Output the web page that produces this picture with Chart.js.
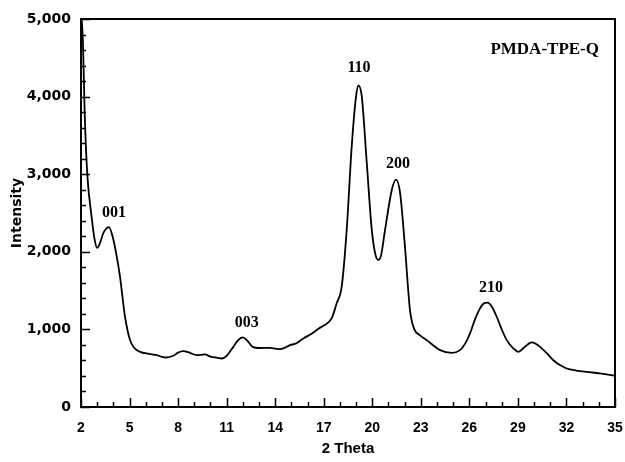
<!DOCTYPE html>
<html>
<head>
<meta charset="utf-8">
<script src="https://cdn.jsdelivr.net/npm/chart.js@4/dist/chart.umd.min.js"></script>
<style>
    html, body { margin: 0; padding: 0; background: #fff; }
    #wrap { width: 625px; height: 462px; }
</style>
</head>
<body>
<div id="wrap"><canvas id="xrdChart"></canvas></div>
<script>
const theta = [
    2.05, 2.12, 2.23, 2.39, 2.64, 2.85, 3.0, 3.15, 3.4, 3.73, 3.95, 4.2, 4.41, 4.72, 5.03, 5.3, 5.65,
    6.2, 6.68, 7.0, 7.3, 7.7, 8.0, 8.32, 8.7, 9.15, 9.66, 10.0, 10.4, 10.7, 11.0, 11.41, 11.7, 11.99,
    12.3, 12.61, 13.0, 13.68, 14.3, 14.92, 15.3, 15.74, 16.3, 16.7, 17.0, 17.49, 17.8, 18.11, 18.42,
    18.73, 19.0, 19.14, 19.35, 19.66, 19.97, 20.2, 20.38, 20.55, 20.79, 21.21, 21.47, 21.72, 22.02,
    22.33, 22.6, 22.91, 23.36, 23.8, 24.19, 24.91, 25.42, 25.75, 26.04, 26.35, 26.66, 26.9, 27.13,
    27.4, 27.69, 28.0, 28.31, 28.7, 29.03, 29.4, 29.85, 30.1, 30.37, 30.8, 31.19, 31.6, 32.02, 32.6,
    33.25, 34.0, 34.8, 35.0
];
const intensity = [
    4980, 4700, 3769, 2994, 2477, 2150, 2050, 2100, 2250, 2318, 2200, 1950, 1680, 1163, 862, 760, 711,
    685, 668, 645, 638, 660, 700, 720, 700, 668, 677, 650, 635, 625, 660, 775, 860, 896,
    850, 775, 760, 762, 745, 797, 820, 883, 950, 1013, 1050, 1142, 1336, 1550, 2283,
    3359, 4005, 4143, 4005, 3145, 2283, 1960, 1895, 1960, 2283, 2800, 2929, 2757, 2067,
    1249, 1000, 930, 862, 790, 733, 698, 733, 820, 948, 1130, 1271, 1335, 1344,
    1290, 1163, 1000, 862, 760, 711, 770, 832, 815, 775, 690, 603, 540, 496, 470,
    452, 435, 410, 400
];

// reflection labels and where they sit (2 theta, intensity)
const peakLabels = ['001', '003', '110', '200', '210'];
const peakLabelX = [4.04, 12.24, 19.18, 21.59, 27.34];
const peakLabelY = [2503, 1090, 4372, 3132, 1534];
const sampleName = 'PMDA-TPE-Q';

const sans = 'Liberation Sans, Arial, sans-serif';
const wideSans = 'DejaVu Sans, sans-serif';
const serif = 'Liberation Serif, Times New Roman, serif';

// frame, inward tick marks and the reflection labels
const decor = {
    id: 'decor',
    afterDraw(chart) {
        const { ctx, chartArea: a, scales: { x, y } } = chart;
        ctx.save();
        ctx.strokeStyle = '#000';
        ctx.lineWidth = 1.5;
        ctx.beginPath();
        for (let v = x.min; v <= x.max; v += 1) {
            const px = Math.round(x.getPixelForValue(v)) + 0.5;
            const len = (v - x.min) % 3 === 0 ? 9 : 5;
            ctx.moveTo(px, a.bottom);
            ctx.lineTo(px, a.bottom - len);
        }
        for (let v = y.min; v <= y.max; v += 200) {
            const py = Math.round(y.getPixelForValue(v)) + 0.5;
            const len = v % 1000 === 0 ? 9 : 5;
            ctx.moveTo(a.left, py);
            ctx.lineTo(a.left + len, py);
        }
        ctx.stroke();

        ctx.lineWidth = 2;
        ctx.strokeRect(a.left, a.top, a.right - a.left, a.bottom - a.top);

        ctx.fillStyle = '#000';
        ctx.font = 'bold 16px ' + serif;
        ctx.textAlign = 'center';
        ctx.textBaseline = 'middle';
        peakLabels.forEach((label, i) => {
            ctx.fillText(label, x.getPixelForValue(peakLabelX[i]), y.getPixelForValue(peakLabelY[i]));
        });
        ctx.font = 'bold 17px ' + serif;
        ctx.textAlign = 'right';
        ctx.fillText(sampleName, a.right - 16, a.top + 31);
        ctx.restore();
    }
};

new Chart(document.getElementById('xrdChart'), {
    type: 'line',
    data: {
        datasets: [{
            data: theta.map((t, i) => ({ x: t, y: intensity[i] })),
            borderColor: '#000',
            borderWidth: 1.8,
            pointRadius: 0,
            cubicInterpolationMode: 'monotone',
            fill: false
        }]
    },
    options: {
        responsive: true,
        maintainAspectRatio: false,
        animation: false,
        events: [],
        layout: { padding: { top: 19, right: 10, left: 0, bottom: 0 } },
        plugins: { legend: { display: false }, tooltip: { enabled: false } },
        scales: {
            x: {
                type: 'linear',
                min: 2,
                max: 35,
                grid: { display: false, drawTicks: false },
                border: { display: false },
                ticks: {
                    stepSize: 3,
                    padding: 13,
                    color: '#000',
                    maxRotation: 0,
                    font: { family: sans, size: 14, weight: 'bold' }
                },
                title: {
                    display: true,
                    text: '2 Theta',
                    color: '#000',
                    padding: { top: 0, bottom: 4 },
                    font: { family: sans, size: 15, weight: 'bold' }
                },
                afterFit: (scale) => {
                    scale.height = 55;
                    scale.paddingLeft = 0;
                    scale.paddingRight = 0;
                }
            },
            y: {
                min: 0,
                max: 5000,
                grid: { display: false, drawTicks: false },
                border: { display: false },
                ticks: {
                    stepSize: 1000,
                    padding: 10,
                    color: '#000',
                    font: { family: wideSans, size: 14, weight: 'bold' },
                    callback: (value) => value.toLocaleString('en-US')
                },
                title: {
                    display: true,
                    text: 'Intensity',
                    color: '#000',
                    padding: { top: 9, bottom: 0 },
                    font: { family: wideSans, size: 14, weight: 'bold' }
                },
                afterFit: (scale) => {
                    scale.width = 81;
                    scale.paddingTop = 0;
                    scale.paddingBottom = 0;
                }
            }
        }
    },
    plugins: [decor]
});
</script>
</body>
</html>
